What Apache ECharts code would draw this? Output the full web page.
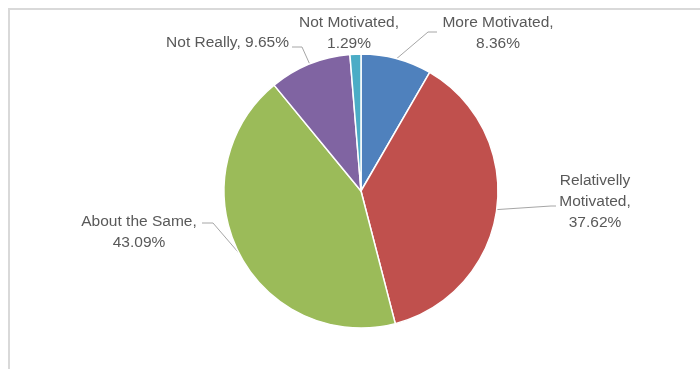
<!DOCTYPE html>
<html>
<head>
<meta charset="utf-8">
<script src="https://cdn.jsdelivr.net/npm/echarts@6/dist/echarts.min.js"></script>
<style>
  html, body { margin: 0; padding: 0; background: #fff; }
  #chart { width: 700px; height: 369px; }
</style>
</head>
<body>
<div id="chart"></div>
<script>
// Survey answers, clockwise from twelve o'clock
const categories = ['More Motivated', 'Relativelly Motivated', 'About the Same', 'Not Really', 'Not Motivated'];
const shares = [8.36, 37.62, 43.09, 9.65, 1.29];
const labelTexts = [
  'More Motivated,\n8.36%',
  'Relativelly\nMotivated,\n37.62%',
  'About the Same,\n43.09%',
  'Not Really, 9.65%',
  'Not Motivated,\n1.29%'
];
const colors = ['#4f81bd', '#c0504d', '#9bbb59', '#8064a2', '#4bacc6'];

// Where each label sits and how its leader line bends (elbow, end)
const labelPlacement = [
  { x: 498, y: 33, align: 'center', line: [[428, 32], [437, 32]] },
  { x: 595, y: 202, align: 'center', line: [[551, 206], [556, 206]] },
  { x: 139, y: 232, align: 'center', line: [[213, 223], [202, 223]] },
  { x: 289, y: 43, align: 'right', line: [[302, 47], [292, 47]] },
  { x: 349, y: 33, align: 'center', line: null }
];

const CX = 361, CY = 191, R = 137;

// Anchor on the rim at the middle of each slice
const total = shares.reduce((a, b) => a + b, 0);
const anchors = [];
let acc = 0;
shares.forEach(v => {
  const mid = (acc + v / 2) / total * Math.PI * 2;
  anchors.push([CX + R * Math.sin(mid), CY - R * Math.cos(mid)]);
  acc += v;
});

const chart = echarts.init(document.getElementById('chart'), null, { renderer: 'canvas' });

chart.setOption({
  backgroundColor: '#ffffff',
  animation: false,
  graphic: [{
    type: 'polyline',
    silent: true,
    shape: { points: [[9, 400], [9, 9], [720, 9]] },
    style: { stroke: '#d9d9d9', lineWidth: 2, fill: null }
  }],
  series: [{
    type: 'pie',
    center: [CX, CY],
    radius: [0, R],
    startAngle: 90,
    clockwise: true,
    avoidLabelOverlap: false,
    itemStyle: { borderColor: '#ffffff', borderWidth: 1.5 },
    label: {
      show: true,
      formatter: p => labelTexts[p.dataIndex],
      fontFamily: 'Liberation Sans',
      fontSize: 15.5,
      lineHeight: 21,
      color: '#595959',
      align: 'center'
    },
    labelLine: {
      show: true,
      length: 10,
      length2: 10,
      lineStyle: { color: '#a6a6a6', width: 1 }
    },
    labelLayout: function (params) {
      const i = params.dataIndex;
      const pl = labelPlacement[i];
      const out = { x: pl.x, y: pl.y, align: pl.align, verticalAlign: 'middle' };
      if (pl.line) {
        out.labelLinePoints = [anchors[i], pl.line[0], pl.line[1]];
      }
      return out;
    },
    data: categories.map((name, i) => ({
      name: name,
      value: shares[i],
      itemStyle: { color: colors[i] },
      labelLine: { show: labelPlacement[i].line !== null }
    }))
  }]
});
</script>
</body>
</html>
